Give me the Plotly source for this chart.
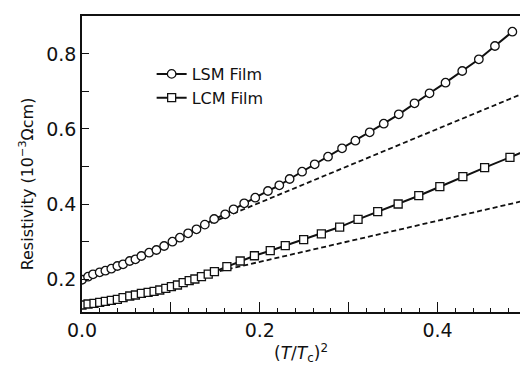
import plotly.graph_objects as go

# LSM film data: (T/Tc)^2 and resistivity (10^-3 Ohm cm)
lsm_x = [0.000, 0.0068, 0.0124, 0.0199, 0.0263, 0.0330, 0.0398, 0.0462, 0.0537, 0.0601,
         0.0668, 0.0755, 0.0837, 0.0924, 0.1017, 0.1101, 0.1194, 0.1288, 0.1382, 0.1487,
         0.1611, 0.1705, 0.1825, 0.1949, 0.2092, 0.2220, 0.2336, 0.2476, 0.2618, 0.2768,
         0.2926, 0.3076, 0.3237, 0.3395, 0.3564, 0.3741, 0.3910, 0.4090, 0.4278, 0.4465,
         0.4646, 0.4842]
lsm_y = [0.198, 0.2061, 0.2125, 0.2179, 0.2221, 0.2275, 0.2347, 0.2392, 0.2480, 0.2525,
         0.2613, 0.2701, 0.2773, 0.2880, 0.2995, 0.3101, 0.3219, 0.3325, 0.3450, 0.3600,
         0.3725, 0.3859, 0.4019, 0.4168, 0.4347, 0.4499, 0.4667, 0.4861, 0.5059, 0.5261,
         0.5485, 0.5688, 0.5912, 0.6141, 0.6392, 0.6685, 0.6952, 0.7235, 0.7547, 0.7859,
         0.8213, 0.8595]

# LCM film data
lcm_x = [0.000, 0.0068, 0.0135, 0.0199, 0.0263, 0.0330, 0.0398, 0.0462, 0.0537, 0.0601,
         0.0668, 0.0744, 0.0811, 0.0875, 0.0943, 0.1006, 0.1074, 0.1138, 0.1206, 0.1270,
         0.1344, 0.1420, 0.1490, 0.1630, 0.1780, 0.1940, 0.2118, 0.2287, 0.2494, 0.2693,
         0.2899, 0.3106, 0.3327, 0.3557, 0.3789, 0.4026, 0.4285, 0.4530, 0.4815, 0.5000]
lcm_y = [0.1307, 0.1333, 0.1352, 0.1379, 0.1405, 0.1432, 0.1459, 0.1501, 0.1547, 0.1573,
         0.1619, 0.1645, 0.1672, 0.1707, 0.1752, 0.1795, 0.1840, 0.1901, 0.1955, 0.2000,
         0.2065, 0.2130, 0.2195, 0.2330, 0.2480, 0.2620, 0.2755, 0.2890, 0.3050, 0.3205,
         0.3385, 0.3590, 0.3795, 0.4000, 0.4221, 0.4461, 0.4728, 0.4968, 0.5245, 0.5430]

# Linear (T^2) fits shown dashed
lsm_fit_x = [0.12, 0.50]
lsm_fit_y = [0.3250, 0.6985]
lcm_fit_x = [0.12, 0.50]
lcm_fit_y = [0.2019, 0.4101]

x_label_ticks = [0.0, 0.2, 0.4]
x_mid_ticks = [0.1, 0.3]

INK = "#111111"
FONT = "DejaVu Sans"
X_RANGE = [0, 0.4928]

fig = go.Figure()
fig.add_trace(go.Scatter(x=lsm_fit_x, y=lsm_fit_y, mode="lines", showlegend=False,
                         line=dict(color=INK, width=1.8, dash="5px,3px")))
fig.add_trace(go.Scatter(x=lcm_fit_x, y=lcm_fit_y, mode="lines", showlegend=False,
                         line=dict(color=INK, width=1.8, dash="5px,3px")))
fig.add_trace(go.Scatter(x=lsm_x, y=lsm_y, mode="lines+markers", name="LSM Film",
                         line=dict(color=INK, width=2),
                         marker=dict(symbol="circle", size=8.5, color="white",
                                     line=dict(color=INK, width=1.3))))
fig.add_trace(go.Scatter(x=lcm_x, y=lcm_y, mode="lines+markers", name="LCM Film",
                         line=dict(color=INK, width=2),
                         marker=dict(symbol="square", size=8, color="white",
                                     line=dict(color=INK, width=1.3))))
# empty trace so the secondary tick axis is drawn
fig.add_trace(go.Scatter(x=[], y=[], xaxis="x2", yaxis="y", showlegend=False,
                         hoverinfo="skip"))

fig.update_layout(
    width=520, height=368,
    margin=dict(l=82, r=0, t=16, b=56),
    paper_bgcolor="white", plot_bgcolor="white",
    font=dict(family=FONT, color=INK, size=18),
    showlegend=True,
    legend=dict(x=0.159, y=0.8615, xanchor="left", yanchor="top",
                bgcolor="rgba(0,0,0,0)", borderwidth=0,
                font=dict(family=FONT, size=16, color=INK),
                tracegroupgap=0),
    xaxis=dict(range=X_RANGE, showgrid=False, zeroline=False,
               showline=True, linecolor=INK, linewidth=1.6, mirror=True,
               tickmode="array", tickvals=x_label_ticks,
               tickformat=".1f",
               ticks="inside", ticklen=10, tickwidth=1.4, tickcolor=INK,
               tickfont=dict(family=FONT, size=19, color=INK),
               minor=dict(dtick=0.02, tick0=0, ticks="inside", ticklen=4,
                          tickwidth=1.2, tickcolor=INK, showgrid=False),
               title=dict(text="(<i>T</i>/<i>T</i><sub>c</sub>)<sup>2</sup>",
                          font=dict(family=FONT, size=17, color=INK), standoff=7)),
    xaxis2=dict(range=X_RANGE, overlaying="x", anchor="y", side="bottom",
                showgrid=False, zeroline=False, showline=False,
                tickmode="array", tickvals=x_mid_ticks, showticklabels=False,
                ticks="inside", ticklen=10, tickwidth=1.4, tickcolor=INK),
    yaxis=dict(range=[0.112, 0.9013], showgrid=False, zeroline=False,
               showline=True, linecolor=INK, linewidth=1.6, mirror=False,
               tick0=0.2, dtick=0.2, tickformat=".1f",
               ticks="inside", ticklen=7, tickwidth=1.4, tickcolor=INK,
               tickfont=dict(family=FONT, size=19, color=INK),
               minor=dict(tick0=0.1, dtick=0.1, ticks="inside", ticklen=7,
                          tickwidth=1.4, tickcolor=INK, showgrid=False)),
)

fig.add_annotation(text="Resistivity (10<sup>−3</sup>Ωcm)", textangle=-90,
                   xref="paper", yref="paper", x=-0.127, y=(368 - 56 - 184) / 296,
                   xanchor="center", yanchor="middle", showarrow=False,
                   font=dict(family=FONT, size=16, color=INK))

fig.write_html("out.html")
